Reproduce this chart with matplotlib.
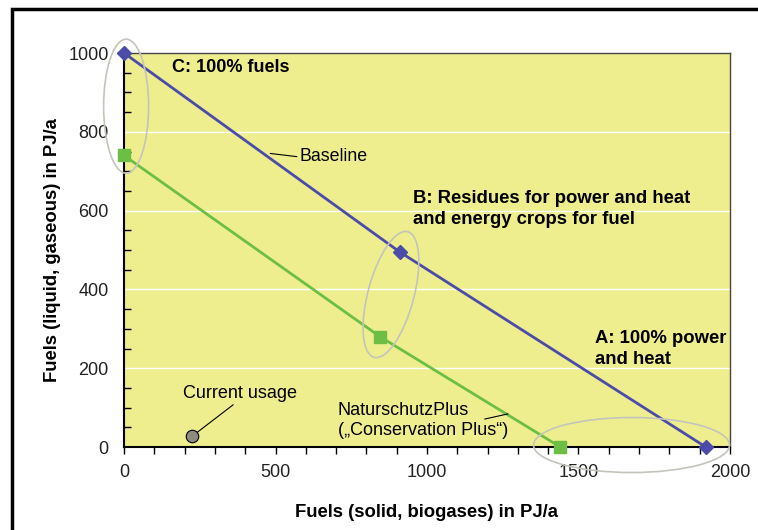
import matplotlib
matplotlib.use("Agg")
import matplotlib.pyplot as plt
from matplotlib.patches import Ellipse, Rectangle
from matplotlib.transforms import ScaledTranslation
from matplotlib.ticker import MultipleLocator

plt.rcParams['font.family'] = ['Liberation Sans', 'DejaVu Sans']

# Data
baseline_x = [0, 910, 1920]
baseline_y = [1000, 495, 0]
natur_x = [0, 845, 1440]
natur_y = [740, 280, 0]
current_x = [225]
current_y = [28]

fig = plt.figure(figsize=(7.58, 5.30), dpi=100)
ax = fig.add_axes([124/758, 83/530, 606/758, 394/530])
ax.set_facecolor('#EEEE8F')

ax.set_xlim(0, 2000)
ax.set_ylim(0, 1000)

for yv in [200, 400, 600, 800]:
    ax.axhline(yv, color='white', lw=1.0, zorder=1)

blue = '#4B4BAA'
green = '#6CBE45'
ax.plot(baseline_x, baseline_y, color=blue, lw=2, marker='D', ms=7, zorder=4, clip_on=False)
ax.plot(natur_x, natur_y, color=green, lw=2, marker='s', ms=9, zorder=4, clip_on=False)
ax.plot(current_x, current_y, 'o', color='#8F8B80', mec='black', mew=0.8, ms=9, zorder=4)

ax.xaxis.set_major_locator(MultipleLocator(500))
ax.xaxis.set_minor_locator(MultipleLocator(100))
ax.yaxis.set_major_locator(MultipleLocator(200))
ax.yaxis.set_minor_locator(MultipleLocator(50))
ax.tick_params(axis='x', which='both', direction='out', length=5, width=1, labelsize=13,
               pad=7, labelcolor='#222222')
ax.tick_params(axis='y', which='both', direction='in', length=5, width=1, labelsize=13,
               pad=11, labelcolor='#222222')
ax.tick_params(axis='y', which='major', length=0)
for s in ['left', 'bottom']:
    ax.spines[s].set_linewidth(1.5)
for s in ['top', 'right']:
    ax.spines[s].set_linewidth(1.0)
    ax.spines[s].set_color('#444444')

ax.set_xlabel('Fuels (solid, biogases) in PJ/a', fontsize=13.3, fontweight='bold', labelpad=17)
ax.set_ylabel('Fuels (liquid, gaseous) in PJ/a', fontsize=13.3, fontweight='bold', labelpad=5)

# ellipses (sizes in pixels at 100 dpi)
def ell(xd, yd, w, h, ang):
    tr = fig.dpi_scale_trans + ScaledTranslation(xd, yd, ax.transData)
    e = Ellipse((0, 0), w/100, h/100, angle=ang, transform=tr, fill=False,
                edgecolor='#C4C4BC', lw=1.2, zorder=5, clip_on=False)
    ax.add_patch(e)

ell(7, 865, 45, 134, 0)
ell(881, 387, 46, 130, -15)
ell(1675, 5, 196, 55, 0)

# annotations
ax.text(160, 964, 'C: 100% fuels', fontsize=13, fontweight='bold', va='center', ha='left', zorder=6)
ax.text(955, 603, 'B: Residues for power and heat\nand energy crops for fuel', fontsize=13.3,
        fontweight='bold', va='center', ha='left', linespacing=1.3, zorder=6)
ax.text(1555, 249, 'A: 100% power\nand heat', fontsize=13.3, fontweight='bold', va='center',
        ha='left', linespacing=1.3, zorder=6)

ax.text(580, 737, 'Baseline', fontsize=12.8, va='center', ha='left', zorder=6)
ax.plot([483, 570], [745, 737], color='black', lw=0.8, zorder=6)
ax.text(195, 135, 'Current usage', fontsize=13, va='center', ha='left', zorder=6)
ax.plot([360, 243], [107, 38], color='black', lw=0.8, zorder=6)
ax.text(706, 67, 'NaturschutzPlus\n(\u201eConservation Plus\u201c)', fontsize=13, va='center',
        ha='left', linespacing=1.2, zorder=6)
ax.plot([1191, 1267], [71, 84], color='black', lw=0.8, zorder=6)

# figure frame
fig.add_artist(Rectangle((12/758, -0.1), 1.1, (530-9)/530 + 0.1, transform=fig.transFigure,
                         fill=False, edgecolor='black', lw=2.5))

fig.savefig('out.png', dpi=100)
